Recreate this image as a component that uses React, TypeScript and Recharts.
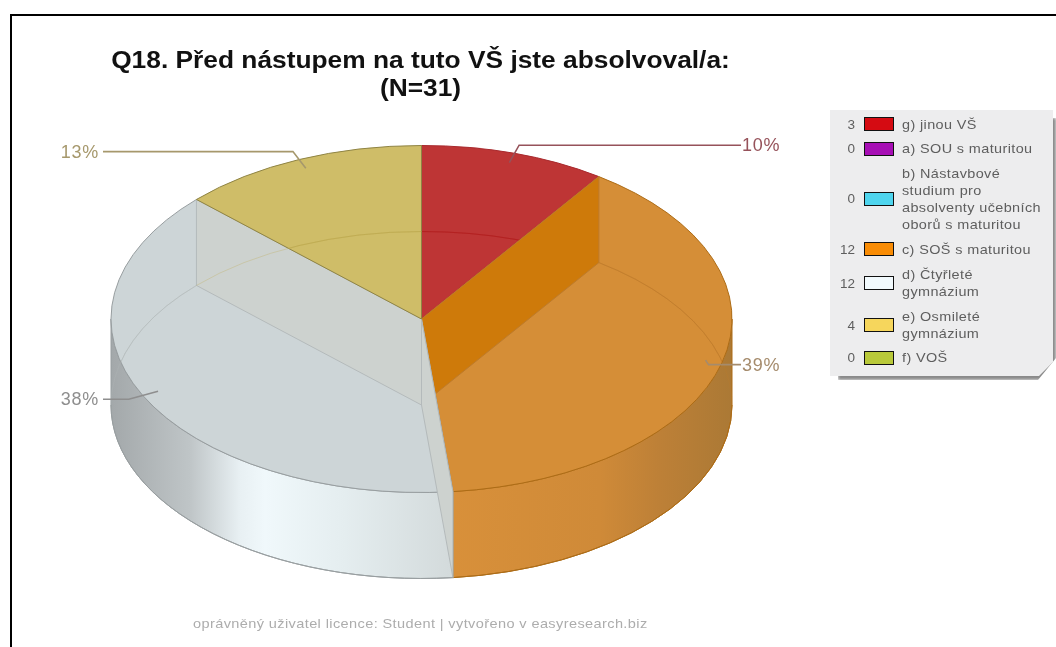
// Q18 3D pie: Recharts computes the angles, custom shape projects them on an ellipse

import { PieChart, Pie } from 'recharts'

const CATEGORIES = [
  'g) jinou VŠ', 'a) SOU s maturitou',
  'b) Nástavbové studium pro absolventy učebních oborů s maturitou',
  'c) SOŠ s maturitou', 'd) Čtyřleté gymnázium', 'e) Osmileté gymnázium', 'f) VOŠ',
]
const COUNTS = [3, 0, 0, 12, 12, 4, 0]
const PERCENT_LABELS = ['10%', '', '', '39%', '38%', '13%', '']

const SWATCH = ['#d50b12', '#a70fb5', '#4fd5ee', '#f98c05', '#f2fafd', '#f6d65c', '#b9c93a']
const TOP_FILL = ['#be3535', '#a70fb5', '#4fd5ee', '#d58e37', '#cdd5d7', '#cfbd68', '#b9c93a']
const EDGE = ['#a8292d', '#a70fb5', '#4fd5ee', '#ad6c16', '#989ea0', '#8f8444', '#b9c93a']
const ARC = ['#b01c1c', '#a70fb5', '#4fd5ee', '#bd7b2c', '#b4babb', '#bca84e', '#b9c93a']
const WALL = ['#be3535', '#a70fb5', '#4fd5ee', '#ce7a0a', '#cdd2cf', '#cfbd68', '#b9c93a']
const LABEL_COLOR = ['#96525a', '#000', '#000', '#a58b6c', '#8e8e8e', '#a6986c', '#000']
const SIDE_STOPS: Record<number, [number, string][]> = {
  3: [[452, '#d8903a'], [600, '#cf8a38'], [660, '#bd8037'], [732, '#ab7935']],
  4: [[111, '#a3a8aa'], [190, '#bfc5c7'], [240, '#e8f0f3'], [265, '#f0f8fb'], [340, '#e5eef0'], [452, '#d3dadb']],
}
const ROW_HEIGHT = [24, 25, 75, 26, 42, 42, 23]

const tableData = CATEGORIES.map((name, i) => ({ name, value: COUNTS[i] }))

const CX = 421.5
const CY = 319
const RX = 310.5
const RY = 173.5
const DEPTH = 86
const RAD = Math.PI / 180

const px = (a: number, r = 1) => CX + RX * r * Math.cos(a * RAD)
const py = (a: number, r = 1) => CY - RY * r * Math.sin(a * RAD)

function arcTo(a1: number, a2: number, dy: number, clockwise: boolean) {
  const large = Math.abs(a1 - a2) > 180 ? 1 : 0
  return `A${RX} ${RY} 0 ${large} ${clockwise ? 1 : 0} ${px(a2)} ${py(a2) + dy}`
}

function wedgePath(a1: number, a2: number) {
  return `M${CX} ${CY}L${px(a1)} ${py(a1)}${arcTo(a1, a2, 0, true)}Z`
}

function wallPath(a: number) {
  return `M${CX} ${CY}L${px(a)} ${py(a)}L${px(a)} ${py(a) + DEPTH}L${CX} ${CY + DEPTH}Z`
}

function Slice3D(props: any) {
  const i = CATEGORIES.indexOf(props.payload?.name ?? props.name)
  const a1 = props.startAngle
  const a2 = props.endAngle
  if (a1 - a2 < 0.01 || i < 0) return null
  const s1 = Math.min(a1, 0)
  const s2 = Math.max(a2, -180)
  const hasSide = s1 > s2
  const stops = SIDE_STOPS[i] ?? []
  const showStartWall = Math.cos(a1 * RAD) > 0.01
  const showEndWall = Math.cos(a2 * RAD) < -0.01
  const bottomArc = `M${px(a1)} ${py(a1) + DEPTH}${arcTo(a1, a2, DEPTH, true)}`
  return (
    <g>
      <defs>
        <linearGradient id={`side${i}`} gradientUnits="userSpaceOnUse" x1={111} x2={732} y1={0} y2={0}>
          {stops.map(([x, c]) => <stop key={x} offset={(x - 111) / 621} stopColor={c} />)}
        </linearGradient>
        <clipPath id={`top${i}`}><path d={wedgePath(a1, a2)} /></clipPath>
      </defs>
      {hasSide && (
        <path
          d={`M${px(s1)} ${py(s1)}${arcTo(s1, s2, 0, true)}L${px(s2)} ${py(s2) + DEPTH}${arcTo(s2, s1, DEPTH, false)}Z`}
          fill={`url(#side${i})`} stroke={EDGE[i]} strokeWidth={1}
        />
      )}
      <path d={wedgePath(a1, a2)} fill={TOP_FILL[i]} stroke={EDGE[i]} strokeWidth={1} />
      {showStartWall && <path d={wallPath(a1)} fill={WALL[i]} stroke={ARC[i]} strokeWidth={1} />}
      {showEndWall && <path d={wallPath(a2)} fill={WALL[i]} stroke={ARC[i]} strokeWidth={1} />}
      <path d={bottomArc} fill="none" stroke={ARC[i]} strokeOpacity={0.3} strokeWidth={1} />
      <path d={bottomArc} fill="none" stroke={ARC[i]} strokeOpacity={0.7} strokeWidth={1} clipPath={`url(#top${i})`} />
      {hasSide && <path d={`M${px(s1)} ${py(s1) + DEPTH}${arcTo(s1, s2, DEPTH, true)}`} fill="none" stroke={EDGE[i]} strokeWidth={1} />}
    </g>
  )
}

function LeaderLabel(props: any) {
  const i = CATEGORIES.indexOf(props.payload?.name ?? props.name)
  if (i < 0 || !PERCENT_LABELS[i]) return null
  const a = props.midAngle
  const right = Math.cos(a * RAD) > 0
  const flat = Math.abs(Math.cos(a * RAD)) > 0.95 && right
  const tipX = px(a, 0.945)
  const tipY = py(a, 0.945)
  const elbowX = flat ? tipX + 3 : px(a, 1.05)
  const elbowY = py(a, 1.05)
  const endX = right ? 741 : 103
  const c = LABEL_COLOR[i]
  return (
    <g>
      <polyline points={`${tipX},${tipY} ${elbowX},${elbowY} ${endX},${elbowY}`} fill="none" stroke={c} strokeWidth={1.6} />
      <text
        x={right ? 742 : 99} y={elbowY}
        textAnchor={right ? 'start' : 'end'} dominantBaseline="central"
        fill={c} style={{ fontSize: 18, letterSpacing: 0.7, fontFamily: 'Liberation Sans' }}
      >
        {PERCENT_LABELS[i]}
      </text>
    </g>
  )
}

function LegendPanel() {
  return (
    <>
      <div style={{
        position: 'absolute', left: 838, top: 118, width: 218, height: 262, background: '#8a8a8a',
        filter: 'blur(1.6px)',
        clipPath: 'polygon(0 0, 100% 0, 100% 240px, 200px 100%, 0 100%)',
      }} />
      <div style={{
        position: 'absolute', left: 830, top: 110, width: 223, height: 266, background: '#ededee',
        fontFamily: 'Liberation Sans', fontSize: 13, color: '#5e5e5e', letterSpacing: '0.35px',
        clipPath: 'polygon(0 0, 100% 0, 100% 252px, 209px 100%, 0 100%)',
        paddingTop: 2, boxSizing: 'border-box',
      }}>
        {CATEGORIES.map((name, i) => (
          <div key={name} style={{ display: 'flex', alignItems: 'center', height: ROW_HEIGHT[i] }}>
            <span style={{ width: 25, textAlign: 'right', fontSize: 13.5, letterSpacing: 0 }}>{COUNTS[i]}</span>
            <span style={{
              width: 28, height: 12, marginLeft: 9, background: SWATCH[i],
              border: '1.5px solid #111', flexShrink: 0,
            }} />
            <span style={{
              marginLeft: 8, width: 128, lineHeight: '17px', flexShrink: 0,
              transform: 'scaleX(1.11)', transformOrigin: 'left center',
            }}>{name}</span>
          </div>
        ))}
      </div>
    </>
  )
}

export default function App() {
  return (
    <div style={{ position: 'absolute', left: 0, top: 0, width: 1056, height: 647, overflow: 'hidden', background: '#fff', filter: 'blur(0.4px)' }}>
      <div style={{ position: 'absolute', left: 10, top: 14, width: 1046, height: 633, borderLeft: '2px solid #000', borderTop: '2px solid #000' }} />
      <div style={{
        position: 'absolute', left: 120, width: 601, top: 46, textAlign: 'center', color: '#111', whiteSpace: 'nowrap',
        fontFamily: 'Liberation Sans', fontWeight: 'bold', fontSize: 23.5, lineHeight: '28px',
        transform: 'scaleX(1.12)', transformOrigin: 'center',
      }}>
        Q18. Před nástupem na tuto VŠ jste absolvoval/a:<br />(N=31)
      </div>
      <div style={{ position: 'absolute', left: 0, top: 0 }}>
        <PieChart width={1056} height={647} margin={{ top: 0, right: 0, bottom: 0, left: 0 }}>
          <Pie
            data={tableData}
            dataKey="value"
            cx={CX} cy={CY}
            innerRadius={0} outerRadius={RX}
            startAngle={90} endAngle={-270}
            stroke="none"
            isAnimationActive={false}
            shape={Slice3D}
            label={LeaderLabel}
            labelLine={false}
          />
        </PieChart>
      </div>
      <LegendPanel />
      <div style={{
        position: 'absolute', left: 193, top: 616, color: '#adadad', whiteSpace: 'nowrap',
        fontFamily: 'Liberation Sans', fontSize: 13, letterSpacing: '0.35px',
        transform: 'scaleX(1.118)', transformOrigin: 'left center',
      }}>
        oprávněný uživatel licence: Student | vytvořeno v easyresearch.biz
      </div>
    </div>
  )
}
